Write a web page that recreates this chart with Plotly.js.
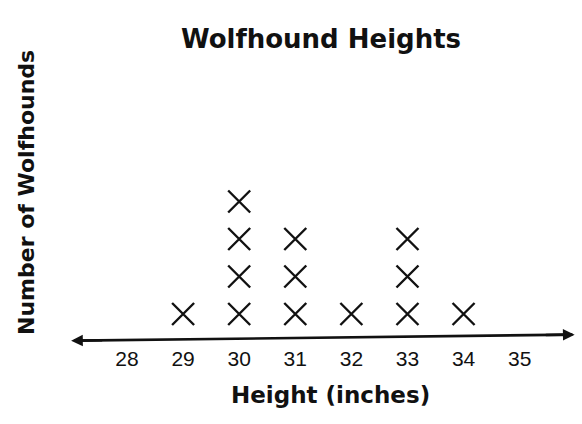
<!DOCTYPE html>
<html>
<head>
<meta charset="utf-8">
<script src="https://cdn.plot.ly/plotly-3.0.1.min.js"></script>
<style>
  html, body { margin: 0; padding: 0; background: #ffffff; }
  #chart { width: 582px; height: 424px; }
</style>
</head>
<body>
<div id="chart"></div>
<script>
// ---- data ----
const heights = [28, 29, 30, 31, 32, 33, 34, 35];
const counts  = [0, 1, 4, 3, 1, 3, 1, 0];
const tickLabels = ['28', '29', '30', '31', '32', '33', '34', '35'];
const chartTitle = 'Wolfhound Heights';
const xTitle = 'Height (inches)';
const yTitle = 'Number of Wolfhounds';

// stack one X per wolfhound
const xs = [], ys = [];
heights.forEach((h, i) => {
  for (let k = 1; k <= counts[i]; k++) { xs.push(h); ys.push(k); }
});

const xMin = 26.984, xMax = 36.04;
const yMin = 0.2, yMax = 5.0;
const lineYLeft = 0.29, lineYRight = 0.45;
const boldFont = 'DejaVu Sans, Arial, sans-serif';
const plotBottom = 344, plotH = 180, plotL = 70, plotW = 508;

const trace = {
  type: 'scatter',
  mode: 'markers',
  x: xs,
  y: ys,
  marker: {
    symbol: 'x-thin',
    size: 22,
    color: '#111111',
    line: { color: '#111111', width: 2.4 }
  },
  hoverinfo: 'x+y',
  showlegend: false
};

const layout = {
  width: 582,
  height: 424,
  margin: { l: 70, r: 4, t: 164, b: 80 },
  paper_bgcolor: '#ffffff',
  plot_bgcolor: '#ffffff',
  title: {
    text: '<b>' + chartTitle + '</b>',
    font: { family: boldFont, size: 26, color: '#111111' },
    x: 321 / 582,
    xanchor: 'center',
    xref: 'container',
    y: 1 - 39 / 424,
    yanchor: 'middle',
    yref: 'container'
  },
  xaxis: {
    range: [xMin, xMax],
    tickmode: 'array',
    tickvals: heights,
    ticktext: tickLabels,
    ticks: '',
    showgrid: false,
    zeroline: false,
    showline: false,
    fixedrange: true,
    tickfont: { family: 'Liberation Sans, Arial, sans-serif', size: 21, color: '#111111' },
    ticklabelstandoff: 0
  },
  yaxis: {
    range: [yMin, yMax],
    showticklabels: false,
    ticks: '',
    showgrid: false,
    zeroline: false,
    showline: false,
    fixedrange: true
  },
  shapes: [{
    type: 'line', xref: 'x', yref: 'y',
    x0: xMin + 0.1, x1: xMax - 0.1, y0: lineYLeft, y1: lineYRight,
    line: { color: '#111111', width: 2.6 }
  }],
  annotations: [
    {
      xref: 'x', yref: 'y', axref: 'x', ayref: 'y',
      x: xMin + 0.02, y: lineYLeft, ax: xMin + 0.6, ay: lineYLeft + 0.01,
      showarrow: true, arrowhead: 2, arrowsize: 0.9, arrowwidth: 2.6,
      arrowcolor: '#111111', text: ''
    },
    {
      xref: 'x', yref: 'y', axref: 'x', ayref: 'y',
      x: xMax - 0.06, y: lineYRight, ax: xMax - 0.6, ay: lineYRight - 0.01,
      showarrow: true, arrowhead: 2, arrowsize: 0.9, arrowwidth: 2.6,
      arrowcolor: '#111111', text: ''
    },
    {
      xref: 'paper', yref: 'paper',
      x: (330 - plotL) / plotW, y: -(395 - plotBottom) / plotH,
      xanchor: 'center', yanchor: 'middle',
      showarrow: false,
      text: '<b>' + xTitle + '</b>',
      font: { family: boldFont, size: 23, color: '#111111' }
    },
    {
      xref: 'paper', yref: 'paper',
      x: (26 - plotL) / plotW, y: (plotBottom - 193) / plotH,
      xanchor: 'center', yanchor: 'middle',
      textangle: -90,
      showarrow: false,
      text: '<b>' + yTitle + '</b>',
      font: { family: boldFont, size: 22, color: '#111111' }
    }
  ]
};

Plotly.newPlot('chart', [trace], layout, { displayModeBar: false, staticPlot: true });
</script>
</body>
</html>
